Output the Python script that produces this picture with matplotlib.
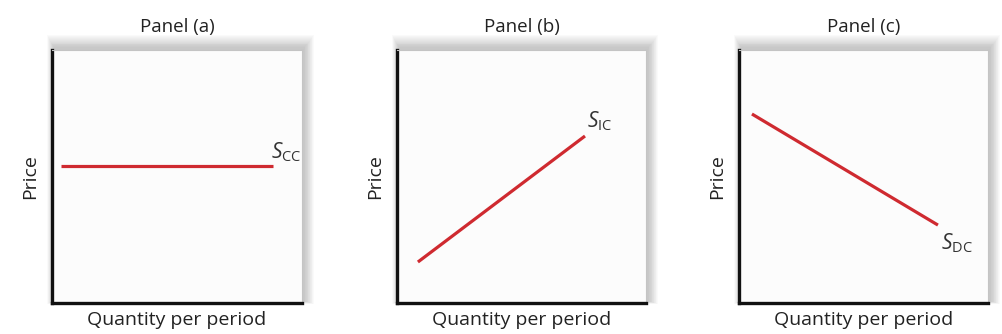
import matplotlib.pyplot as plt
from matplotlib.patches import Rectangle
import numpy as np

plt.rcParams['font.family'] = ['Open Sans', 'DejaVu Sans']
plt.rcParams['mathtext.fontset'] = 'custom'
plt.rcParams['mathtext.rm'] = 'Open Sans'
plt.rcParams['mathtext.it'] = 'Open Sans:italic'

# Supply curves: quantity (x) and price (y) endpoints on a 0-10 scale
panels = ['Panel (a)', 'Panel (b)', 'Panel (c)']
curve_q = [[0.36, 8.84], [0.84, 7.55], [0.52, 7.99]]
curve_p = [[5.41, 5.41], [1.62, 6.60], [7.47, 3.08]]
curve_labels = [r'$\mathit{S}_{\mathrm{CC}}$', r'$\mathit{S}_{\mathrm{IC}}$', r'$\mathit{S}_{\mathrm{DC}}$']
label_pos = [(8.75, 5.95), (7.65, 7.2), (8.1, 2.35)]

W, H = 1002, 334
fig = plt.figure(figsize=(W / 100, H / 100), dpi=100)
fig.patch.set_facecolor('white')

# axes boxes in pixels: left, top, right, bottom
boxes = [(52, 50, 302, 303), (397, 50, 646, 303), (739, 50, 988, 303)]
RED = '#cf2a30'

for i, (l, t, r, b) in enumerate(boxes):
    # soft drop shadow around the frame, heavier toward top and right
    for k in range(14, 0, -1):
        fig.patches.append(Rectangle(((l - k * 0.5 + 2) / W, (H - b - k * 0.2 + 2) / H),
                                     (r - l + k * 1.2) / W, (b - t + k * 1.1) / H,
                                     transform=fig.transFigure, facecolor='#666666',
                                     edgecolor='none', alpha=0.026, zorder=-5))

    ax = fig.add_axes([l / W, (H - b) / H, (r - l) / W, (b - t) / H])
    ax.set_zorder(1)
    ax.set_facecolor('#fcfcfc')
    ax.set_xlim(0, 10)
    ax.set_ylim(0, 10)
    ax.set_xticks([])
    ax.set_yticks([])
    for side in ['left', 'bottom']:
        ax.spines[side].set_linewidth(2.4)
        ax.spines[side].set_color('#111111')
    for side in ['top', 'right']:
        ax.spines[side].set_linewidth(0.8)
        ax.spines[side].set_color('#c4c4c4')

    ax.plot(curve_q[i], curve_p[i], color=RED, lw=2.3, solid_capstyle='butt')
    ax.text(label_pos[i][0], label_pos[i][1], curve_labels[i], fontsize=15,
            color='#333333', ha='left', va='center')

    ax.set_title(panels[i], fontsize=13.5, color='#222222', pad=13)
    ax.set_xlabel('Quantity per period', fontsize=14, color='#222222', labelpad=6)
    ax.set_ylabel('Price', fontsize=14, color='#222222', labelpad=9)

fig.savefig('out.png', dpi=100, facecolor='white')
